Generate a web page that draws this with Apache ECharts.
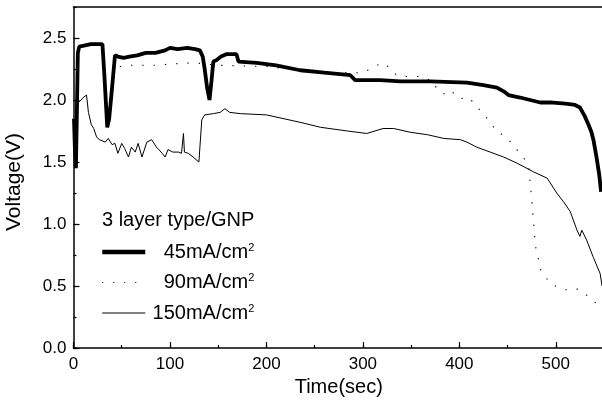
<!DOCTYPE html>
<html>
<head>
<meta charset="utf-8">
<script src="https://cdn.jsdelivr.net/npm/echarts@6/dist/echarts.min.js"></script>
<style>
  html, body { margin: 0; padding: 0; background: #fff; }
  #chart { width: 602px; height: 404px; }
</style>
</head>
<body>
<div id="chart"></div>
<script>
// values: time (sec) and voltage (V) per current density
const t45 = [0.5, 1.5, 2.5, 3.5, 4.5, 6, 18, 30, 32, 35, 37, 40, 43, 46, 52, 58, 66, 75, 85, 95, 100, 108, 118, 126, 131, 134, 136, 138.5, 141, 143, 145, 148, 153, 159, 169, 171, 190, 210, 235, 260, 287, 292, 318, 339, 370, 408, 425, 439, 446, 451, 463, 484, 494, 510, 520, 525, 530, 534, 537, 539, 542, 545, 547];
const v45 = [1.85, 1.60, 1.45, 1.90, 2.38, 2.43, 2.45, 2.45, 2.20, 1.78, 1.85, 2.10, 2.36, 2.35, 2.34, 2.35, 2.36, 2.38, 2.38, 2.40, 2.42, 2.41, 2.42, 2.41, 2.40, 2.35, 2.25, 2.10, 2.00, 2.15, 2.31, 2.32, 2.35, 2.37, 2.37, 2.31, 2.30, 2.28, 2.24, 2.22, 2.20, 2.16, 2.16, 2.15, 2.15, 2.14, 2.12, 2.10, 2.07, 2.04, 2.02, 1.98, 1.98, 1.97, 1.96, 1.94, 1.87, 1.80, 1.74, 1.68, 1.55, 1.40, 1.26];

const t90 = [48, 52, 60, 84, 100, 125, 150, 200, 260, 300, 320, 328, 335, 345, 360, 373, 377, 387, 392, 400, 410, 419, 425, 429, 434, 439, 445, 451, 458, 463, 468, 472, 475, 479, 485, 496, 511, 521, 530, 540, 547];
const v90 = [2.27, 2.27, 2.28, 2.28, 2.29, 2.30, 2.28, 2.27, 2.22, 2.22, 2.30, 2.26, 2.20, 2.19, 2.19, 2.15, 2.08, 2.04, 2.07, 2.01, 2.02, 1.94, 1.88, 1.85, 1.80, 1.74, 1.72, 1.68, 1.62, 1.56, 1.52, 1.45, 1.20, 0.82, 0.61, 0.51, 0.47, 0.48, 0.44, 0.37, 0.35];

const t150 = [1, 3, 5, 8, 10, 13.5, 15.5, 18.5, 21, 24, 27, 33, 36, 40, 43, 46, 50, 53, 57, 60, 64, 67, 71, 76, 81, 86, 92, 95, 98, 103, 109, 112, 114, 115, 119, 124, 130, 131.5, 133, 136, 145, 152, 157, 162, 173, 200, 235, 256, 284, 304, 321, 332, 349, 367, 384, 401, 408, 418, 432, 446, 460, 477, 491, 501, 508, 515, 522, 525, 527, 532, 539, 546, 548];
const v150 = [1.55, 1.85, 1.98, 2.00, 2.02, 2.04, 1.90, 1.80, 1.77, 1.70, 1.68, 1.66, 1.69, 1.64, 1.65, 1.57, 1.65, 1.61, 1.54, 1.62, 1.58, 1.65, 1.54, 1.66, 1.68, 1.62, 1.57, 1.54, 1.60, 1.58, 1.58, 1.57, 1.73, 1.58, 1.57, 1.54, 1.50, 1.49, 1.84, 1.88, 1.89, 1.90, 1.93, 1.90, 1.89, 1.88, 1.82, 1.78, 1.75, 1.73, 1.77, 1.77, 1.74, 1.72, 1.69, 1.68, 1.66, 1.62, 1.58, 1.54, 1.49, 1.42, 1.37, 1.25, 1.18, 1.10, 0.95, 0.90, 0.95, 0.87, 0.73, 0.60, 0.50];

const seriesNames = ['45mA/cm²', '90mA/cm²', '150mA/cm²'];
const legendTitle = '3 layer type/GNP';

const zip = (ts, vs) => ts.map((t, i) => [t, vs[i]]);

const font = "'Liberation Sans', Arial, sans-serif";
const black = '#000';

const thick = { color: black, width: 3.8 };
const dotted = { color: black, width: 1.1, type: [1.3, 10] };
const thin = { color: black, width: 1 };

const chart = echarts.init(document.getElementById('chart'));

const option = {
  animation: false,
  backgroundColor: '#fff',
  textStyle: { fontFamily: font, color: black },
  grid: { left: 73.5, right: -2, top: 7, bottom: 56, outerBoundsMode: 'none' },
  title: {
    text: legendTitle,
    left: 102,
    top: 210,
    padding: 0,
    textStyle: { fontFamily: font, fontSize: 20, fontWeight: 'normal', color: black },
  },
  legend: {
    orient: 'vertical',
    left: 100,
    top: 242,
    padding: 0,
    itemWidth: 43,
    itemHeight: 14,
    itemGap: 10.5,
    itemStyle: { opacity: 0 },
    data: [
      { name: seriesNames[0], lineStyle: { width: 4.5, color: black } },
      { name: seriesNames[1], lineStyle: { width: 1, color: black, type: [1, 10] } },
      { name: seriesNames[2], lineStyle: { width: 1, color: black } },
    ],
    formatter: (name) => `{n|${name.replace('²', '')}}{s|2}`,
    textStyle: {
      width: 104,
      fontFamily: font,
      color: black,
      rich: {
        n: { fontSize: 20, align: 'right', fontFamily: font, color: black },
        s: { fontSize: 11, align: 'right', verticalAlign: 'top', fontFamily: font, color: black },
      },
    },
  },
  xAxis: [
    {
      type: 'value',
      min: 0,
      max: 550,
      interval: 100,
      name: 'Time(sec)',
      nameLocation: 'middle',
      nameGap: 27,
      nameTextStyle: { fontSize: 20, color: black, fontFamily: font },
      axisLine: { show: true, lineStyle: { color: black, width: 1.5 } },
      axisTick: { inside: true, length: 6, lineStyle: { color: black, width: 1.2 } },
      axisLabel: { fontSize: 17, color: black, margin: 8, showMaxLabel: false },
      splitLine: { show: false },
    },
    {
      // short ticks every 50 s
      type: 'value',
      min: 0,
      max: 550,
      interval: 50,
      position: 'bottom',
      axisLine: { show: false },
      axisTick: { inside: true, length: 3, lineStyle: { color: black, width: 1.2 } },
      axisLabel: { show: false },
      splitLine: { show: false },
    },
    {
      // top frame line
      type: 'value',
      min: 0,
      max: 550,
      position: 'top',
      axisLine: { show: true, lineStyle: { color: black, width: 1.5 } },
      axisTick: { show: false },
      axisLabel: { show: false },
      splitLine: { show: false },
    },
  ],
  yAxis: [
    {
      type: 'value',
      min: 0,
      max: 2.75,
      interval: 0.5,
      name: 'Voltage(V)',
      nameLocation: 'middle',
      nameGap: 49,
      nameTextStyle: { fontSize: 21, color: black, fontFamily: font, padding: [0, 9, 0, 0] },
      axisLine: { show: true, lineStyle: { color: black, width: 1.5 } },
      axisTick: { inside: true, length: 6, lineStyle: { color: black, width: 1.2 } },
      axisLabel: {
        fontSize: 17,
        color: black,
        margin: 7,
        showMaxLabel: false,
        formatter: (v) => v.toFixed(1),
      },
      splitLine: { show: false },
    },
    {
      // short ticks every 0.25 V
      type: 'value',
      min: 0,
      max: 2.75,
      interval: 0.25,
      position: 'left',
      axisLine: { show: false },
      axisTick: { inside: true, length: 3, lineStyle: { color: black, width: 1.2 } },
      axisLabel: { show: false },
      splitLine: { show: false },
    },
  ],
  series: [
    {
      name: seriesNames[0],
      type: 'line',
      data: zip(t45, v45),
      symbol: 'none',
      lineStyle: thick,
      itemStyle: { color: black },
      z: 3,
    },
    {
      name: seriesNames[1],
      type: 'line',
      data: zip(t90, v90),
      symbol: 'none',
      lineStyle: dotted,
      itemStyle: { color: black },
      z: 2,
    },
    {
      name: seriesNames[2],
      type: 'line',
      data: zip(t150, v150),
      symbol: 'none',
      lineStyle: thin,
      itemStyle: { color: black },
      z: 2,
    },
  ],
};

chart.setOption(option);
</script>
</body>
</html>
